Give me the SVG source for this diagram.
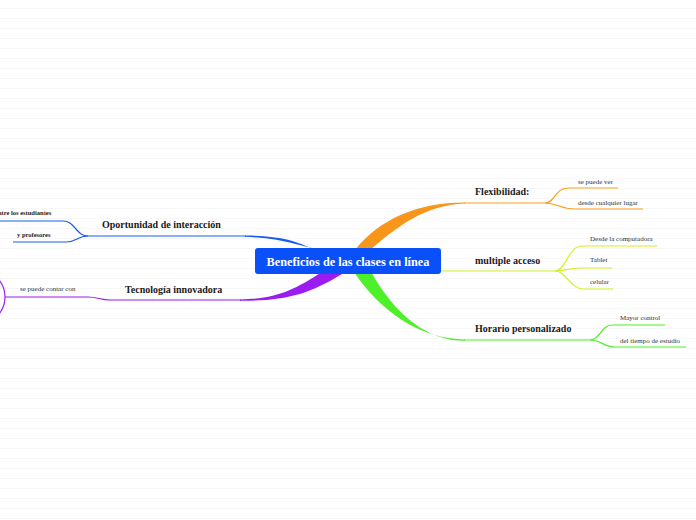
<svg xmlns="http://www.w3.org/2000/svg" width="696" height="520" viewBox="0 0 696 520">
<defs>
<pattern id="lines" x="0" y="0" width="696" height="10" patternUnits="userSpaceOnUse">
<rect width="696" height="10" fill="#ffffff"/>
<line x1="0" y1="8.5" x2="696" y2="8.5" stroke="#f7f7f7" stroke-width="1"/>
</pattern>
</defs>
<style>
.lbl{font-family:"Liberation Serif",serif;font-weight:bold;font-size:10px;fill:#1a1a1a}
.sub{font-family:"Liberation Serif",serif;font-size:7px;fill:#333}
.subb{font-family:"Liberation Serif",serif;font-weight:bold;font-size:6.5px;fill:#222}
.thin{fill:none;stroke-width:1.2}
.o{stroke:#f7a01a}.y{stroke:#d4f020}.g{stroke:#4ef02a}.b{stroke:#1a5cf0}.p{stroke:#9a1cf0}
</style>
<rect width="696" height="520" fill="url(#lines)"/>
<g id="connectors">
<path d="M355,250 C380,218 420,202 465,202.4 L465,203.6 C424,205 396,228 370,250 Z" fill="#f7961a"/>
<path d="M315,250 C294,240 280,236 245,235.5 L245,236.8 C284,238 302,247 334,253 Z" fill="#1a5cf0"/>
<path d="M322,272 C294,290 276,299 240,299.5 L240,300.8 C284,301 308,295 342,274 Z" fill="#9a1cf0"/>
<path d="M354,272 C380,311 420,339 465,339.5 L465,340.8 C428,341 396,316 371,272 Z" fill="#4ef02a"/>
<path class="thin o" d="M464,203 L545,203 C555,203 555,188 568,188 L618,188"/>
<path class="thin o" d="M545,203 C557,203 560,209 575,209 L643,209"/>
<path class="thin y" d="M441,271 L555,271 C566,271 568,246 582,246 L657,246"/>
<path class="thin y" d="M555,271 C565,271 568,268 580,268 L612,268"/>
<path class="thin y" d="M555,271 C566,271 570,289 584,289 L613,289"/>
<path class="thin g" d="M464,340 L590,340 C600,340 601,325 612,325 L665,325"/>
<path class="thin g" d="M590,340 C601,340 604,347 614,347 L686,347"/>
<path class="thin b" d="M246,236 L88,236 C76,236 75,221 63,221 L0,221"/>
<path class="thin b" d="M88,236 C77,236 77,242 66,242 L13,242"/>
<path class="thin p" d="M241,300 L110,300 C100,300 98,297 88,297 L5,297"/>
</g>
<g id="n-center">
<rect x="255" y="248" width="186" height="26" rx="3" fill="#0a50f8"/>
<text x="348" y="265.5" text-anchor="middle" font-family="Liberation Serif,serif" font-weight="bold" font-size="12.3px" fill="#ffffff">Beneficios de las clases en línea</text>
</g>
<g id="n-flex"><text class="lbl" x="475" y="195">Flexibilidad:</text></g>
<g id="n-flex-1"><text class="sub" x="578" y="183.5">se puede ver</text></g>
<g id="n-flex-2"><text class="sub" x="578" y="204.5">desde cualquier lugar</text></g>
<g id="n-multi"><text class="lbl" x="475" y="264">multiple acceso</text></g>
<g id="n-multi-1"><text class="sub" x="590" y="241">Desde la computadora</text></g>
<g id="n-multi-2"><text class="sub" x="590" y="262">Tablet</text></g>
<g id="n-multi-3"><text class="sub" x="590" y="284">celular</text></g>
<g id="n-horario"><text class="lbl" x="475" y="331.5">Horario personalizado</text></g>
<g id="n-horario-1"><text class="sub" x="620" y="320">Mayor control</text></g>
<g id="n-horario-2"><text class="sub" x="620" y="342.5">del tiempo de estudio</text></g>
<g id="n-oport"><text class="lbl" x="102" y="227.5">Oportunidad de interacción</text></g>
<g id="n-oport-1"><text class="subb" x="-5" y="215">entre los estudiantes</text></g>
<g id="n-oport-2"><text class="subb" x="17" y="236.5">y profesores</text></g>
<g id="n-tec"><text class="lbl" x="125" y="292.5">Tecnología innovadora</text></g>
<g id="n-tec-1"><text class="sub" x="20" y="291">se puede contar con</text></g>
<g id="n-tec-2"><circle cx="-22" cy="297" r="27" fill="none" stroke="#9a1cf0" stroke-width="1.2"/></g>
</svg>
